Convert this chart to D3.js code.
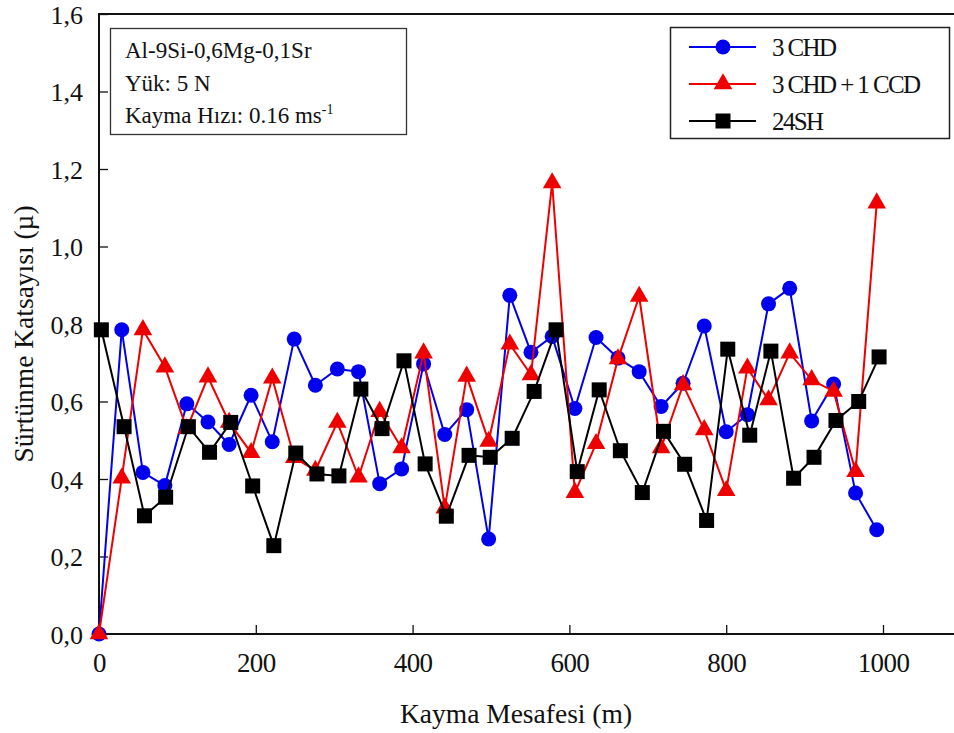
<!DOCTYPE html>
<html>
<head>
<meta charset="utf-8">
<script src="https://cdn.jsdelivr.net/npm/d3@7"></script>
<style>
  body { margin: 0; background: #fff; }
  svg { display: block; }
  text { font-family: "Liberation Serif", "Times New Roman", serif; fill: #111; }
</style>
</head>
<body>
<svg id="chart" width="954" height="733"></svg>
<script>
// distances (m)
var xCHD = [0, 29, 56, 84, 112, 139, 166, 194, 221, 249, 276, 304, 331, 358, 386, 414, 441, 469,
            497, 524, 551, 578, 607, 634, 662, 689, 717, 745, 772, 800, 827, 854, 881, 909, 937, 965, 992];
var xSH  = [3, 32, 58, 85, 114, 141, 168, 196, 223, 251, 278, 306, 334, 361, 389, 416, 443, 472,
            499, 527, 555, 583, 610, 638, 665, 693, 720, 747, 775, 802, 830, 857, 886, 912, 940, 969, 995];

var chd3 = [0, 0.785, 0.417, 0.383, 0.594, 0.547, 0.489, 0.616, 0.496, 0.761, 0.642, 0.684, 0.677,
            0.388, 0.426, 0.697, 0.515, 0.579, 0.245, 0.874, 0.727, 0.768, 0.582, 0.765, 0.712, 0.677,
            0.587, 0.647, 0.795, 0.522, 0.566, 0.852, 0.892, 0.550, 0.645, 0.364, 0.269];
var chd3ccd = [0, 0.402, 0.785, 0.689, 0.530, 0.663, 0.546, 0.468, 0.660, 0.455, 0.422, 0.546, 0.405,
               0.574, 0.480, 0.725, 0.325, 0.665, 0.497, 0.748, 0.669, 1.164, 0.365, 0.491, 0.710, 0.871,
               0.480, 0.643, 0.527, 0.370, 0.686, 0.604, 0.725, 0.656, 0.626, 0.419, 1.112];
var sh24 = [0.785, 0.535, 0.305, 0.353, 0.535, 0.469, 0.546, 0.382, 0.228, 0.467, 0.413, 0.408, 0.632,
            0.530, 0.705, 0.439, 0.304, 0.461, 0.456, 0.505, 0.626, 0.785, 0.419, 0.630, 0.473, 0.365,
            0.523, 0.438, 0.293, 0.735, 0.513, 0.730, 0.402, 0.456, 0.551, 0.600, 0.715];

var xTicks = [0, 200, 400, 600, 800, 1000];
var yTicks = [0, 0.2, 0.4, 0.6, 0.8, 1.0, 1.2, 1.4, 1.6];
var infoLines = ["Al-9Si-0,6Mg-0,1Sr", "Yük: 5 N", "Kayma Hızı: 0.16 ms"];

var series = [
  { name: "3 CHD", xs: xCHD, ys: chd3, color: "#0000ee", shape: "circle" },
  { name: "3 CHD + 1 CCD", xs: xCHD, ys: chd3ccd, color: "#ee0000", shape: "triangle" },
  { name: "24SH", xs: xSH, ys: sh24, color: "#000000", shape: "square" }
];

var svg = d3.select("#chart");
var plotL = 99, plotT = 14, plotB = 634;

var x = d3.scaleLinear().domain([0, 1100]).range([plotL, plotL + 1100 * 0.784]);
var y = d3.scaleLinear().domain([0, 1.6]).range([plotB, plotT]);

var fmt = function(d) { return d3.format(".1f")(d).replace(".", ","); };

// frame
svg.append("rect")
  .attr("x", plotL).attr("y", plotT)
  .attr("width", x(1100) - plotL).attr("height", plotB - plotT)
  .attr("fill", "none").attr("stroke", "#111").attr("stroke-width", 2);

var xAxis = svg.append("g")
  .attr("transform", "translate(0," + plotB + ")")
  .call(d3.axisBottom(x).tickValues(xTicks).tickFormat(d3.format("d"))
    .tickSizeInner(-9).tickSizeOuter(0).tickPadding(19));
xAxis.select(".domain").remove();
xAxis.selectAll("line").attr("stroke", "#111").attr("stroke-width", 1.3);
xAxis.selectAll("text").attr("font-size", 27).attr("font-family", "Liberation Serif")
  .attr("letter-spacing", -0.6).attr("fill", "#111");

var yAxis = svg.append("g")
  .attr("transform", "translate(" + plotL + ",0)")
  .call(d3.axisLeft(y).tickValues(yTicks).tickFormat(fmt).tickSizeInner(-9).tickSizeOuter(0).tickPadding(16));
yAxis.select(".domain").remove();
yAxis.selectAll("line").attr("stroke", "#111").attr("stroke-width", 1.3);
yAxis.selectAll("text").attr("font-size", 26).attr("font-family", "Liberation Serif")
  .attr("fill", "#111").attr("dy", "0.36em");

// axis titles
svg.append("text")
  .attr("x", 516).attr("y", 723)
  .attr("text-anchor", "middle").attr("font-size", 27.5)
  .text("Kayma Mesafesi (m)");

svg.append("text")
  .attr("transform", "translate(33,334) rotate(-90)")
  .attr("text-anchor", "middle").attr("font-size", 27.5)
  .text("Sürtünme Katsayısı (µ)");

// markers
var tri = d3.symbol().type(d3.symbolTriangle).size(150);
function drawMarker(g, s, cx, cy) {
  if (s.shape === "circle") {
    g.append("circle").attr("cx", cx).attr("cy", cy).attr("r", 7.5).attr("fill", s.color);
  } else if (s.shape === "square") {
    g.append("rect").attr("x", cx - 7.5).attr("y", cy - 7.5).attr("width", 15).attr("height", 15).attr("fill", s.color);
  } else {
    g.append("path").attr("d", tri).attr("transform", "translate(" + cx + "," + cy + ")").attr("fill", s.color);
  }
}

var line = d3.line()
  .x(function(d) { return x(d[0]); })
  .y(function(d) { return y(d[1]); });

series.forEach(function(s) {
  var pts = s.ys.map(function(v, i) { return [s.xs[i], v]; });
  var g = svg.append("g");
  g.append("path").datum(pts)
    .attr("d", line).attr("fill", "none")
    .attr("stroke", s.color).attr("stroke-width", 2);
  pts.forEach(function(p) { drawMarker(g, s, x(p[0]), y(p[1])); });
});

// info box
var info = svg.append("g");
info.append("rect").attr("x", 110.5).attr("y", 28.5).attr("width", 296).attr("height", 106)
  .attr("fill", "#fff").attr("stroke", "#333").attr("stroke-width", 1.3);
infoLines.forEach(function(t, i) {
  var tx = info.append("text").attr("x", 125).attr("y", 58 + i * 32.5).attr("font-size", 23).text(t);
  if (i === 2) tx.append("tspan").attr("dy", -9).attr("font-size", 14).text("-1");
});

// legend
var lg = svg.append("g");
lg.append("rect").attr("x", 670.5).attr("y", 27.5).attr("width", 279).attr("height", 111)
  .attr("fill", "#fff").attr("stroke", "#222").attr("stroke-width", 1.5);
series.forEach(function(s, i) {
  var ly = 47 + i * 37;
  lg.append("line").attr("x1", 689).attr("x2", 756).attr("y1", ly).attr("y2", ly)
    .attr("stroke", s.color).attr("stroke-width", 2);
  drawMarker(lg, s, 723, ly);
  lg.append("text").attr("x", 772).attr("y", ly + 9).attr("font-size", 25)
    .attr("letter-spacing", -1.6).text(s.name);
});
</script>
</body>
</html>
